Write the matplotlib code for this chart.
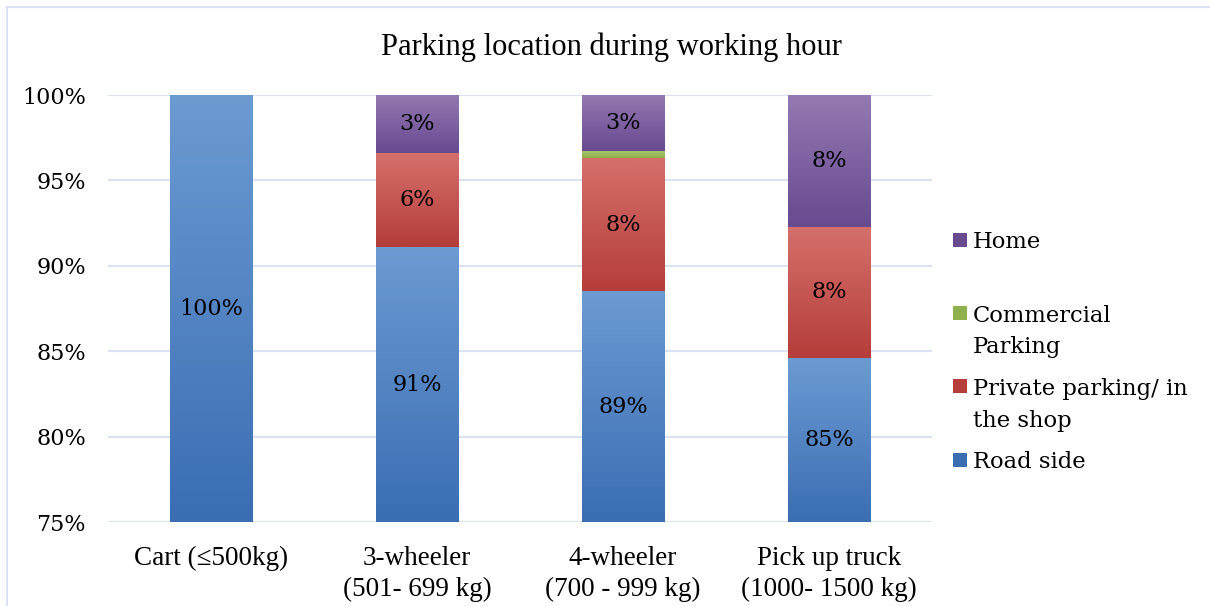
import matplotlib.pyplot as plt
import matplotlib.colors as mcolors
from matplotlib.patches import Rectangle
from matplotlib.lines import Line2D
import numpy as np

plt.rcParams['font.family'] = ['DejaVu Serif']
narrow = ['Liberation Serif', 'DejaVu Serif']

# data
categories = ['Cart (≤500kg)', '3-wheeler\n(501- 699 kg)', '4-wheeler\n(700 - 999 kg)',
              'Pick up truck\n(1000- 1500 kg)']
series_names = ['Road side', 'Private parking/ in\nthe shop', 'Commercial\nParking', 'Home']
road_side = [100.0, 91.1, 88.5, 84.6]
private_parking = [0.0, 5.5, 7.8, 7.7]
commercial = [0.0, 0.0, 0.4, 0.0]
home = [0.0, 3.4, 3.3, 7.7]
label_text = [['100%', '91%', '89%', '85%'],
              ['', '6%', '8%', '8%'],
              ['', '', '', ''],
              ['', '3%', '3%', '8%']]

# (top colour, bottom colour) for the gradient fills
colours = [('#6c9bd2', '#3b6db3'),
           ('#d5706c', '#b53d3a'),
           ('#a6c46a', '#8fb04c'),
           ('#9479b2', '#674a90')]

fig = plt.figure(figsize=(12.1, 6.06), dpi=100)
ax = fig.add_axes([0.0893, 0.1386, 0.681, 0.7046])

ymin, ymax = 75, 100
x = np.arange(len(categories))
width = 0.4
bottom = np.zeros(len(categories))
grad = np.linspace(0, 1, 256).reshape(-1, 1)

for i, vals in enumerate([road_side, private_parking, commercial, home]):
    vals = np.array(vals)
    bars = ax.bar(x, vals, width, bottom=bottom, color=colours[i][1],
                  label=series_names[i], zorder=2)
    cmap = mcolors.LinearSegmentedColormap.from_list('g', [colours[i][1], colours[i][0]])
    for j, b in enumerate(bars):
        if vals[j] <= 0:
            continue
        lo = max(bottom[j], ymin)
        hi = min(bottom[j] + vals[j], ymax)
        if hi <= lo:
            continue
        im = ax.imshow(grad, cmap=cmap, aspect='auto', origin='lower',
                       extent=[x[j] - width / 2, x[j] + width / 2, lo, hi], zorder=2.5)
        im.set_clip_path(b)
        if label_text[i][j]:
            ax.text(x[j], (lo + hi) / 2, label_text[i][j], ha='center', va='center',
                    fontsize=16, color='black', zorder=3)
    bottom = bottom + vals

ax.set_xlim(-0.5, 3.5)
ax.set_ylim(ymin, ymax)
ax.set_yticks(range(75, 101, 5))
ax.set_yticklabels([f'{v}%' for v in range(75, 101, 5)])
ax.set_xticks(x)
ax.set_xticklabels(categories, family=narrow, fontsize=19.5, linespacing=1.3)
ax.tick_params(axis='both', length=0, colors='black')
ax.tick_params(axis='y', pad=16, labelsize=16)
ax.tick_params(axis='x', pad=17)
ax.grid(axis='y', color='#d9e3f1', linewidth=1.5, zorder=0)
for s in ax.spines.values():
    s.set_visible(False)
ax.axhline(ymin, color='#d9e3f1', linewidth=1.5, zorder=1)

fig.text(0.505, 0.922, 'Parking location during working hour', ha='center', va='center',
         fontsize=22, family=narrow)

# legend drawn by hand, Excel spaces the entries evenly
legend_y = [240, 313, 386, 460]
legend_labels = ['Home', 'Commercial\nParking', 'Private parking/ in\nthe shop', 'Road side']
legend_cols = [colours[3], colours[2], colours[1], colours[0]]
for yy, lab, c in zip(legend_y, legend_labels, legend_cols):
    fy = 1 - yy / 606
    fig.patches.append(Rectangle((953 / 1210, fy - 7 / 606), 14 / 1210, 14 / 606,
                                 transform=fig.transFigure, facecolor=c[1], edgecolor='none'))
    for k, line in enumerate(lab.split('\n')):
        fig.text(973 / 1210, fy - k * 32 / 606, line, ha='left', va='center_baseline',
                 fontsize=16.3)

# chart frame (cropped)
fig.add_artist(Line2D([7 / 1210, 1], [1 - 7 / 606] * 2, transform=fig.transFigure,
                      color='#d9e3f1', linewidth=1.5))
fig.add_artist(Line2D([7 / 1210] * 2, [0, 1 - 7 / 606], transform=fig.transFigure,
                      color='#d9e3f1', linewidth=1.5))

fig.savefig('out.png', dpi=100)
